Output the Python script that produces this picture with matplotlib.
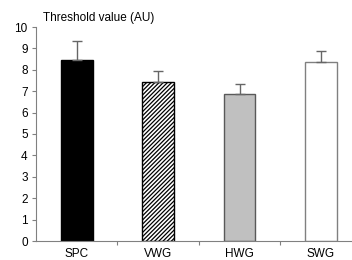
import matplotlib
matplotlib.use("Agg")
import matplotlib.pyplot as plt

categories = ["SPC", "VWG", "HWG", "SWG"]
values = [8.45, 7.45, 6.85, 8.38]
errors = [0.88, 0.48, 0.47, 0.48]
face_colors = ["#000000", "#ffffff", "#c0c0c0", "#ffffff"]
edge_colors = ["#000000", "#000000", "#595959", "#808080"]
hatches = [None, "////////", None, None]
title = "Threshold value (AU)"

plt.rcParams['font.family'] = ['Liberation Sans', 'DejaVu Sans']
plt.rcParams['hatch.linewidth'] = 0.9

fig = plt.figure(figsize=(3.52, 2.60), dpi=100)
ax = fig.add_axes([36/352, 19/260, (352-36)/352, 214/260])

x = list(range(len(categories)))
for i in x:
    ax.bar(i, values[i], width=0.39, color=face_colors[i], edgecolor=edge_colors[i],
           hatch=hatches[i], linewidth=1.0, zorder=2)
    ax.errorbar(i, values[i], yerr=[[0], [errors[i]]], fmt='none', ecolor='#666666',
                elinewidth=1.0, capsize=3.5, capthick=1.0, zorder=3)

ax.set_ylim(0, 10)
ax.set_xlim(-0.5, 3.38)
ax.set_yticks(range(0, 11))
ax.set_xticks([0.5, 1.5, 2.5])
ax.set_xticklabels([])
ax.set_xticks(x, minor=True)
ax.set_xticklabels(categories, minor=True)
ax.tick_params(axis='x', which='minor', length=0, pad=5, labelsize=8.5)
ax.tick_params(axis='x', which='major', length=3, color='#808080', width=0.8)
ax.tick_params(axis='y', length=3, color='#808080', width=0.8, labelsize=8.5, pad=3)

for s in ['top', 'right']:
    ax.spines[s].set_visible(False)
for s in ['left', 'bottom']:
    ax.spines[s].set_color('#808080')
    ax.spines[s].set_linewidth(0.8)

fig.text(43/352, 1 - 18/260, title, fontsize=8.5, va='center', ha='left')

fig.savefig("out.png", dpi=100)
